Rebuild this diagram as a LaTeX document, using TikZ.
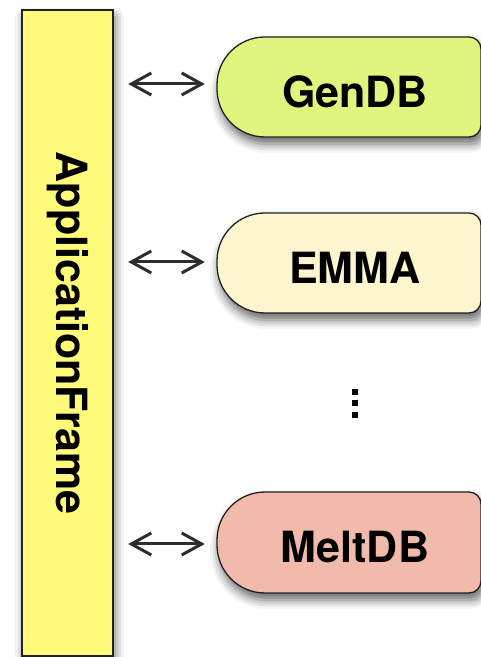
\documentclass[tikz,border=0pt]{standalone}
\usepackage{fontspec}
\setmainfont{TeX Gyre Heros}
\usetikzlibrary{arrows.meta,shadows.blur}
\definecolor{frameyellow}{RGB}{255,250,122}
\definecolor{genfill}{RGB}{222,246,125}
\definecolor{emmafill}{RGB}{252,245,205}
\definecolor{meltfill}{RGB}{242,186,170}
\definecolor{edgegray}{RGB}{34,34,34}
\definecolor{arrowgray}{RGB}{45,45,45}
\pgfdeclarelayer{bg}
\pgfsetlayers{bg,main}
\tikzset{
  softshadow/.style={blur shadow={shadow xshift=2pt, shadow yshift=-7pt, shadow blur radius=9pt, shadow opacity=60}},
  label/.style={font=\fontsize{43}{43}\selectfont\bfseries, text=black, inner sep=0pt},
  pilltext/.style={label, minimum width=276pt, minimum height=100pt},
  conn/.style={draw=arrowgray, line width=3pt, {Straight Barb[length=20pt,width=22pt]}-{Straight Barb[length=20pt,width=22pt]}, shorten <=15pt, shorten >=12pt},
  dotsq/.style={fill=black, minimum size=6pt, inner sep=0pt},
}
% pill: ytop, ybot, colour  (left at x=217, visible right edge at x=481)
\newcommand\pillshape[3]{%
  \filldraw[fill=#3, draw=edgegray, line width=1.3pt, softshadow]
    (265,#1) -- (469,#1) arc[start angle=90,end angle=0,radius=12] --
    (481,#2+12) arc[start angle=0,end angle=-90,radius=12] --
    (265,#2) arc[start angle=270,end angle=180,radius=48] --
    (217,#1-48) arc[start angle=180,end angle=90,radius=48] -- cycle;}
\begin{document}
\begin{tikzpicture}[x=1pt,y=1pt]
\useasboundingbox (0,0) rectangle (481,657);
\begin{pgfonlayer}{bg}
  \filldraw[fill=frameyellow, draw=edgegray, line width=1.3pt, softshadow] (22,1) rectangle (113,647);
  \pillshape{620}{520}{genfill}
  \pillshape{444}{344}{emmafill}
  \pillshape{165}{64}{meltfill}
\end{pgfonlayer}
\node[label, minimum width=91pt, minimum height=646pt] (app) at (67.5,324) {};
\node[label, rotate=-90] (apptext) at (67.5,324) {ApplicationFrame};
\node[pilltext] (gen) at (355,565.5) {GenDB};
\node[pilltext] (emma) at (355,389.5) {EMMA};
\node[pilltext] (melt) at (355,110) {MeltDB};
\node[dotsq] (d1) at (355,265) {};
\node[dotsq] (d2) at (355,253.5) {};
\node[dotsq] (d3) at (355,242) {};
\draw[conn] (app.east |- 0,573) coordinate (ga) -- (gen.west |- ga);
\draw[conn] (app.east |- 0,395) coordinate (ea) -- (emma.west |- ea);
\draw[conn] (app.east |- 0,113) coordinate (ma) -- (melt.west |- ma);
\end{tikzpicture}
\end{document}
